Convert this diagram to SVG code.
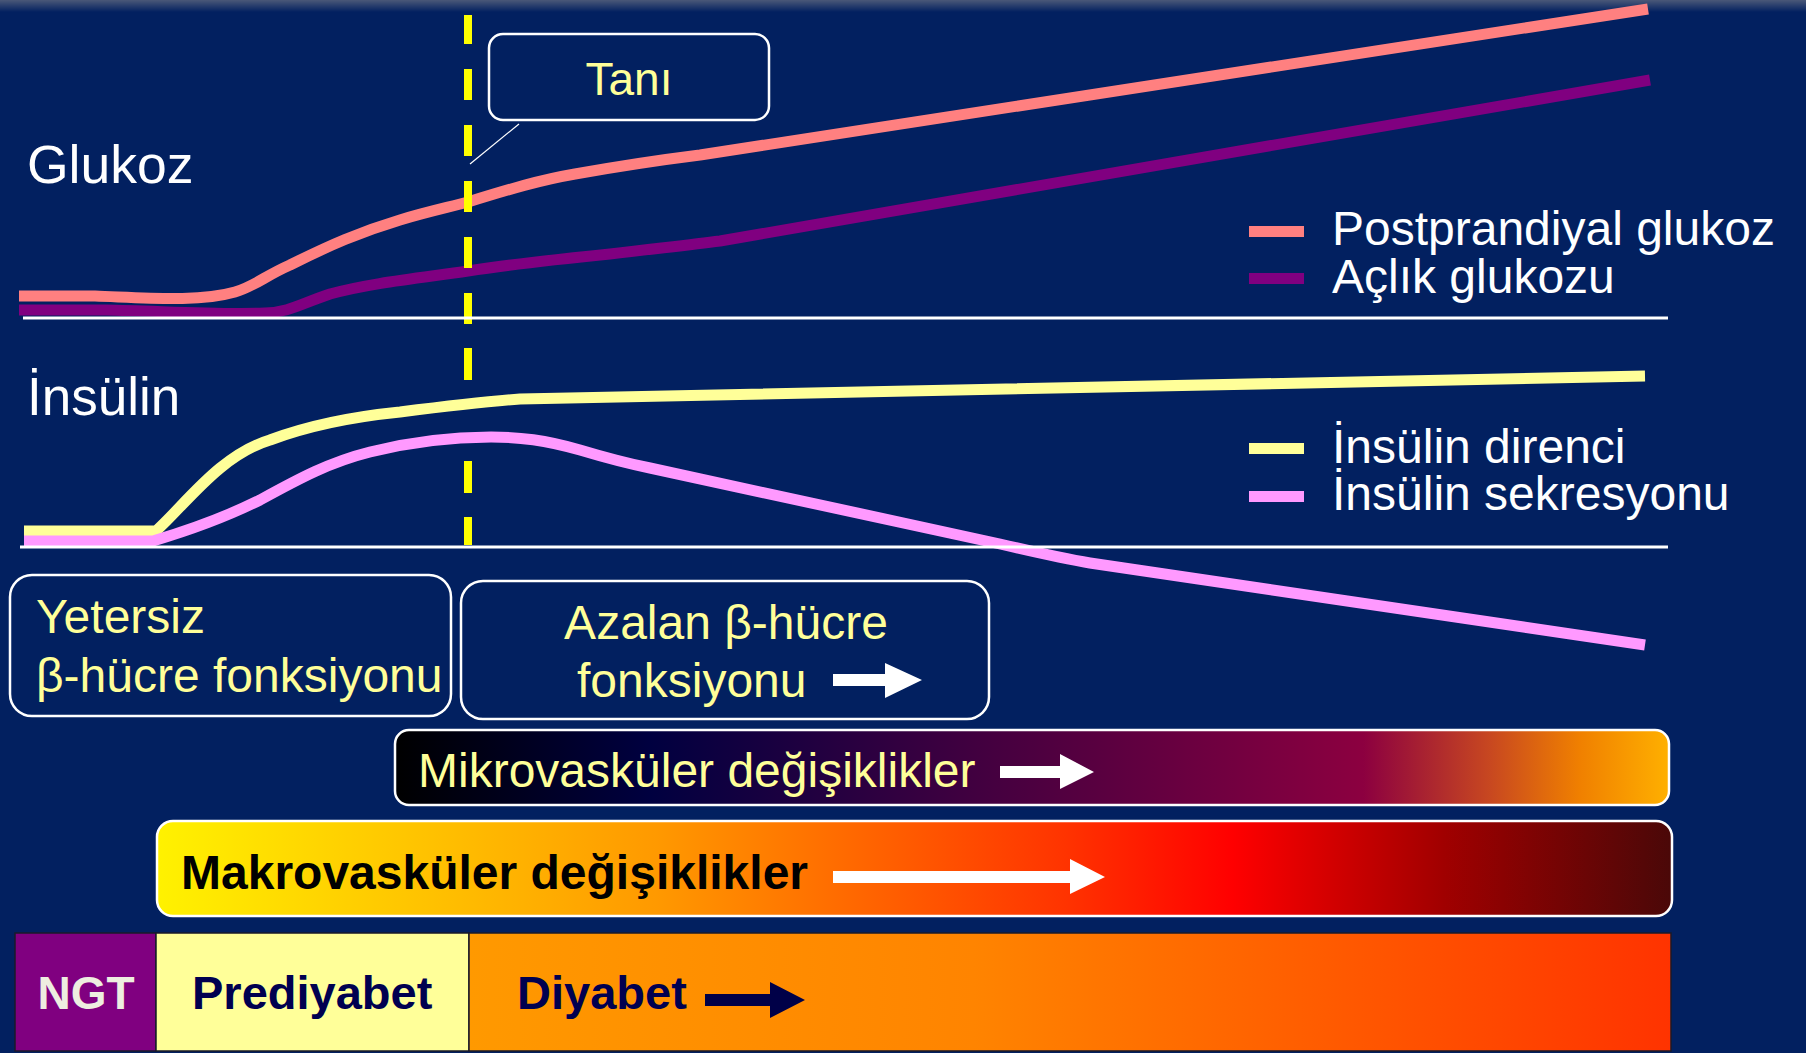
<svg xmlns="http://www.w3.org/2000/svg" width="1806" height="1053" viewBox="0 0 1806 1053">
<defs>
<linearGradient id="topband" x1="0" y1="0" x2="0" y2="1">
<stop offset="0" stop-color="#4a5878"/><stop offset="1" stop-color="#022060"/>
</linearGradient>
<linearGradient id="gMikro" x1="0" y1="0" x2="1" y2="0">
<stop offset="0" stop-color="#000000"/>
<stop offset="0.2" stop-color="#000040"/>
<stop offset="0.45" stop-color="#400040"/>
<stop offset="0.76" stop-color="#8C0040"/>
<stop offset="0.86" stop-color="#C84820"/>
<stop offset="0.93" stop-color="#F08000"/>
<stop offset="1" stop-color="#FFB000"/>
</linearGradient>
<linearGradient id="gMakro" x1="0" y1="0" x2="1" y2="0">
<stop offset="0" stop-color="#FFF200"/>
<stop offset="0.33" stop-color="#FF9900"/>
<stop offset="0.6" stop-color="#FF3300"/>
<stop offset="0.71" stop-color="#FF0000"/>
<stop offset="0.85" stop-color="#A00000"/>
<stop offset="1" stop-color="#4A0808"/>
</linearGradient>
<linearGradient id="gDiyabet" x1="0" y1="0" x2="1" y2="0">
<stop offset="0" stop-color="#FF9900"/>
<stop offset="0.42" stop-color="#FF8400"/>
<stop offset="1" stop-color="#FF3300"/>
</linearGradient>
</defs>
<style>
.t{font-family:"Liberation Sans",Arial,sans-serif}
.w{fill:#FFFFFF}
.y{fill:#FFFF99}
.b{font-weight:bold}
.box{fill:none;stroke:#FFFFFF;stroke-width:2.5}
.axis{stroke:#FFFFFF;stroke-width:3}
.curve{fill:none;stroke-width:11;stroke-linejoin:round}
.seg{stroke:#1a1a2a;stroke-width:1.5}
</style>
<rect x="0" y="0" width="1806" height="1053" fill="#022060"/>
<rect x="0" y="0" width="1806" height="12" fill="url(#topband)"/>

<g id="labels">
<text class="t w" x="27" y="183" font-size="53.5">Glukoz</text>
<text class="t w" x="27" y="415" font-size="53">İnsülin</text>
</g>

<g id="legend">
<rect x="1249" y="226" width="55" height="11" fill="#FF8080"/>
<rect x="1249" y="273" width="55" height="11" fill="#800080"/>
<text class="t w" font-size="48"><tspan x="1332" y="245">Postprandiyal glukoz</tspan><tspan x="1332" y="293">Açlık glukozu</tspan></text>
<rect x="1249" y="443" width="55" height="11" fill="#FFFF99"/>
<rect x="1249" y="491" width="55" height="11" fill="#FF99FF"/>
<text class="t w" font-size="48"><tspan x="1332" y="463">İnsülin direnci</tspan><tspan x="1332" y="510">İnsülin sekresyonu</tspan></text>
</g>

<g id="connectors">
<path class="curve" stroke="#800080" d="M19,310 H106 C160,311 220,315 265,313 C290,312 300,304 330,294 C370,283 420,278 468,271 C520,263 560,259 610,254 C660,248 690,245 720,241 L1650,80"/>
<path class="curve" stroke="#FF8080" d="M19,296 H95 C150,298 200,302 235,292 C255,286 265,276 290,265 C330,245 360,232 400,220 C430,211 450,207 468,202 C510,189 540,180 575,174 C620,166 660,160 700,155 L1648,9"/>
<path stroke="#FFFF00" stroke-width="8" fill="none" d="M468,15 V44 M468,69 V100 M468,125 V156 M468,181 V212 M468,237 V268 M468,293 V324 M468,348 V380 M468,461 V493 M468,517 V545"/>
<path class="curve" stroke="#FFFF99" d="M24,531 H156 C185,505 220,455 270,440 C310,425 350,417 400,412 C440,407 480,402 520,399 L1645,376"/>
<path class="curve" stroke="#FF99FF" d="M24,541 H153 C190,530 230,515 260,500 C300,478 330,462 370,452 C410,442 450,437 491,437 C520,437 545,440 580,450 C600,456 620,462 650,468 L1000,544 C1030,551 1060,558 1090,563 L1645,645"/>
<line class="axis" x1="23" y1="318" x2="1668" y2="318"/>
<line class="axis" x1="20" y1="547" x2="1668" y2="547"/>
<line x1="519" y1="124" x2="470" y2="164" stroke="#FFFFFF" stroke-width="1.2"/>
</g>

<g id="tani">
<rect class="box" x="489" y="34" width="280" height="86" rx="14"/>
<text class="t y" x="629" y="95" font-size="46" text-anchor="middle">Tanı</text>
</g>

<g id="yetersiz">
<rect class="box" x="10" y="575" width="441" height="141" rx="22"/>
<text class="t y" x="36" y="633" font-size="48">Yetersiz</text>
<text class="t y" x="36" y="692" font-size="48">β-hücre fonksiyonu</text>
</g>

<g id="azalan">
<rect class="box" x="461" y="581" width="528" height="138" rx="22"/>
<text class="t y" x="726" y="639" font-size="48" text-anchor="middle">Azalan β-hücre</text>
<text class="t y" x="577" y="697" font-size="48">fonksiyonu</text>
<polygon fill="#FFFFFF" points="833,674 885,674 885,663 922,680 885,698 885,686 833,686"/>
</g>

<g id="mikro">
<rect x="395" y="730" width="1274" height="75" rx="14" fill="url(#gMikro)" stroke="#FFFFFF" stroke-width="2.5"/>
<text class="t y" x="418" y="787" font-size="48">Mikrovasküler değişiklikler</text>
<polygon fill="#FFFFFF" points="1000,766 1060,766 1060,754 1094,772 1060,789 1060,778 1000,778"/>
</g>

<g id="makro">
<rect x="157" y="821" width="1515" height="95" rx="16" fill="url(#gMakro)" stroke="#FFFFFF" stroke-width="2.5"/>
<text class="t b" x="181" y="889" font-size="48" fill="#000000">Makrovasküler değişiklikler</text>
<polygon fill="#FFFFFF" points="833,871 1070,871 1070,859 1105,877 1070,894 1070,883 833,883"/>
</g>

<g id="stages">
<rect class="seg" x="15" y="933" width="141" height="118" fill="#800080"/>
<rect class="seg" x="156" y="933" width="313" height="118" fill="#FFFF99"/>
<rect class="seg" x="469" y="933" width="1202" height="118" fill="url(#gDiyabet)"/>
<text class="t b" x="86" y="1009" font-size="46" fill="#EEEEE0" text-anchor="middle">NGT</text>
<text class="t b" x="192" y="1009" font-size="47" fill="#000050">Prediyabet</text>
<text class="t b" x="517" y="1009" font-size="47" fill="#000050">Diyabet</text>
<polygon fill="#000048" points="705,994 770,994 770,982 805,1000 770,1018 770,1006 705,1006"/>
</g>
</svg>
